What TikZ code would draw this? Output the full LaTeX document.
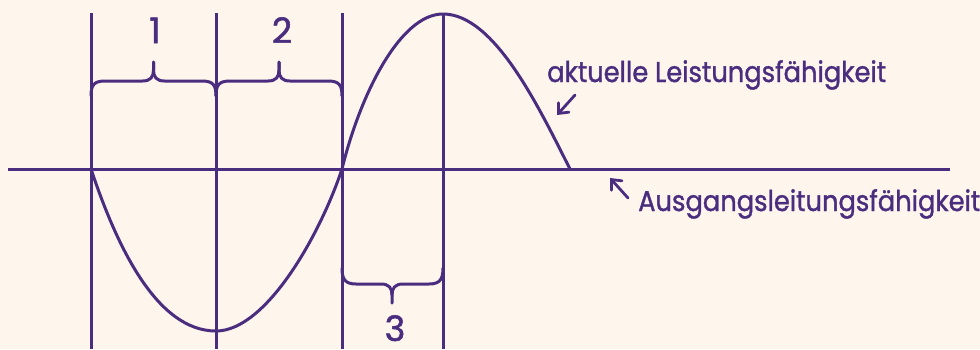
\documentclass[tikz,border=0pt]{standalone}
\usepackage{fontspec}
\setmainfont{Poppins}
\newfontfamily\lblfont{Poppins}[FakeStretch=0.9,FakeBold=1.2]
\newfontfamily\numfont{Poppins}[FakeBold=1.5]
\usetikzlibrary{arrows.meta}
\definecolor{bgc}{HTML}{FEF5EC}
\definecolor{pur}{HTML}{4B2D7F}
\begin{document}
\begin{tikzpicture}[x=1pt,y=-1pt,
  line/.style={draw=pur,line width=3pt},
  lbl/.style={text=pur,inner sep=0pt,font=\lblfont\fontsize{28.6}{30}\selectfont},
  num/.style={text=pur,inner sep=0pt,font=\numfont\fontsize{35}{40}\selectfont},
  pointer/.style={draw=pur,line width=2.8pt,line cap=round,-{Straight Barb[length=8pt,width=14pt,line cap=round]}}]
\fill[bgc] (0,0) rectangle (980,349);
\useasboundingbox (0,0) rectangle (980,349);
% verticals
\foreach \x in {91,216,342,443} \draw[line] (\x,13) -- (\x,349);
% axis
\draw[line] (8,169) -- (950,169);
% curve
\draw[line,line join=round] (91,169) .. controls (116,244) and (156,331) .. (216,331)
  .. controls (266,331) and (320,235) .. (342,169)
  .. controls (360,95) and (400,14) .. (443,14)
  .. controls (495,14) and (540,110) .. (570,169);
% braces top
\foreach \a/\b in {91/216,216/342}{
  \pgfmathsetmacro\m{(\a+\b)/2}
  \draw[line,line cap=round] (\a,96) .. controls (\a,85) and (\a+3,81) .. (\a+14,81) -- (\m-11,81)
    .. controls (\m-3,81) and (\m,77) .. (\m,70) -- (\m,62);
  \draw[line,line cap=round] (\b,96) .. controls (\b,85) and (\b-3,81) .. (\b-14,81) -- (\m+11,81)
    .. controls (\m+3,81) and (\m,77) .. (\m,70) -- (\m,62);
}
% brace bottom
\draw[line,line cap=round] (342,268) .. controls (342,279) and (345,284) .. (356,284) -- (381,284)
  .. controls (389,284) and (392,288) .. (392,295) -- (392,303);
\draw[line,line cap=round] (443,268) .. controls (443,279) and (440,284) .. (429,284) -- (403,284)
  .. controls (395,284) and (392,288) .. (392,295);
% numbers
\node[num,anchor=base] (n1) at (155,43) {1};
\node[num,anchor=base] (n2) at (282,43) {2};
\node[num,anchor=base] (n3) at (395,341) {3};
% labels
\node[lbl,anchor=base west] (akt) at (547,82) {aktuelle Leistungsfähigkeit};
\node[lbl,anchor=base west] (aus) at (638,211) {Ausgangsleitungsfähigkeit};
\coordinate (a1s) at (575,95);
\coordinate (a1e) at (557,115);
\coordinate (a2s) at (628,198);
\coordinate (a2e) at (610,178);
\draw[pointer] (a1s) -- (a1e);
\draw[pointer] (a2s) -- (a2e);
\end{tikzpicture}
\end{document}
